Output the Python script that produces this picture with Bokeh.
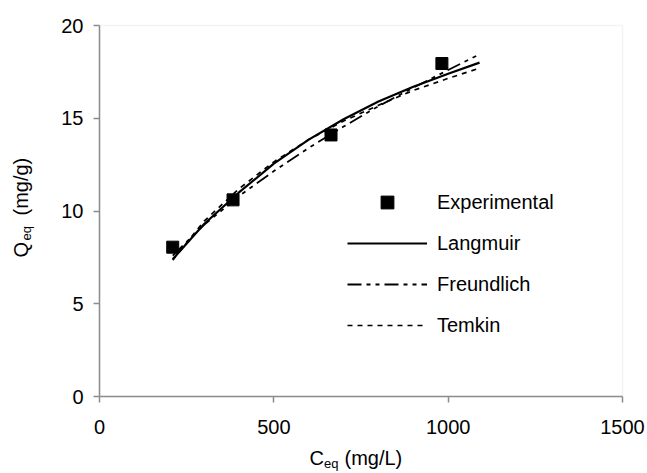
import math
from bokeh.plotting import figure
from bokeh.models import Range1d, FixedTicker, Legend, LegendItem, Label, BoxAnnotation
from bokeh.embed import file_html
from bokeh.resources import INLINE

# ---- data ----
exp_c = [210, 383, 664, 982]
exp_q = [8.05, 10.6, 14.1, 17.95]

fit_c = [210, 300, 400, 500, 600, 700, 800, 900, 1000, 1090]
langmuir = [7.4, 9.3, 11.0, 12.55, 13.85, 14.95, 15.9, 16.7, 17.4, 18.0]
freundlich = [7.6, 9.25, 10.8, 12.15, 13.4, 14.55, 15.65, 16.65, 17.6, 18.45]
temkin = [7.35, 9.45, 11.2, 12.65, 13.85, 14.85, 15.7, 16.5, 17.15, 17.7]

x_ticks = [0, 500, 1000, 1500]
y_ticks = [0, 5, 10, 15, 20]
x_lim = (0, 1500)
y_lim = (0, 20)

FONT = "Liberation Sans"

# ---- layout (pixels) ----
W, H = 647, 473
F_LEFT, F_RIGHT, F_TOP, F_BOTTOM = 99, 622, 25, 396
xs = (x_lim[1] - x_lim[0]) / (F_RIGHT - F_LEFT)
ys = (y_lim[1] - y_lim[0]) / (F_BOTTOM - F_TOP)
x_range = Range1d(x_lim[0] - F_LEFT * xs, x_lim[1] + (W - F_RIGHT) * xs)
y_range = Range1d(y_lim[0] - (H - F_BOTTOM) * ys, y_lim[1] + F_TOP * ys)

p = figure(width=W, height=H, output_backend="svg", toolbar_location=None,
           x_range=x_range, y_range=y_range,
           min_border_left=0, min_border_right=0, min_border_top=0,
           min_border_bottom=0)
p.background_fill_color = "white"
p.border_fill_color = "white"
p.outline_line_color = None
p.xgrid.visible = False
p.ygrid.visible = False

# light grey plot-area border (top / right visible; axes cover left / bottom)
p.add_layout(BoxAnnotation(left=x_lim[0], right=x_lim[1], bottom=y_lim[0], top=y_lim[1],
                           fill_alpha=0, line_color="#d6d6d6", line_width=1.5,
                           level="underlay"))

for ax, ticks, lim in ((p.xaxis, x_ticks, x_lim), (p.yaxis, y_ticks, y_lim)):
    ax.ticker = FixedTicker(ticks=ticks)
    ax.bounds = lim
    ax.axis_line_color = "#8c8c8c"
    ax.axis_line_width = 1.5
    ax.major_tick_line_color = "#8c8c8c"
    ax.major_tick_line_width = 1.5
    ax.major_tick_in = 0
    ax.major_tick_out = 6
    ax.minor_tick_line_color = None
    ax.major_label_text_font = FONT
    ax.major_label_text_font_size = "20px"
    ax.major_label_text_color = "black"
p.xaxis.fixed_location = y_lim[0]
p.yaxis.fixed_location = x_lim[0]
p.xaxis.major_label_standoff = 17
p.yaxis.major_label_standoff = 10

r_exp = p.scatter(exp_c, exp_q, marker="square", size=12, color="black")
r_lang = p.line(fit_c, langmuir, line_color="black", line_width=2.2)
r_freu = p.line(fit_c, freundlich, line_color="black", line_width=1.8,
                line_dash="14 5 4 5 4 5")
r_temk = p.line(fit_c, temkin, line_color="black", line_width=1.7,
                line_dash="5 5")

legend = Legend(items=[
    LegendItem(label="Experimental", renderers=[r_exp]),
    LegendItem(label="Langmuir", renderers=[r_lang]),
    LegendItem(label="Freundlich", renderers=[r_freu]),
    LegendItem(label="Temkin", renderers=[r_temk]),
], location=(F_LEFT + 248, (H - F_BOTTOM) + 55))
legend.glyph_width = 80
legend.glyph_height = 32
legend.label_height = 32
legend.spacing = 9
legend.label_standoff = 10
legend.padding = 0
legend.margin = 0
legend.border_line_color = None
legend.background_fill_alpha = 0
legend.label_text_font = FONT
legend.label_text_font_size = "20px"
legend.label_text_color = "black"
p.add_layout(legend)

def lab(text, x, y, size, angle=0.0):
    # x, y in screen pixels from the canvas' top-left corner (y = text middle)
    p.add_layout(Label(text=text, x=x, y=H - y, x_units="screen", y_units="screen",
                       text_font=FONT, text_font_size=size, text_color="black",
                       text_align="left", text_baseline="middle",
                       angle=angle))

# x axis title: C_eq (mg/L)
lab("C", 309, 457.5, "20px")
lab("eq", 323.5, 462.5, "13px")
lab("(mg/L)", 344, 457.5, "20px")
# y axis title: Q_eq (mg/g)
lab("Q", 20, 257, "20px", math.pi / 2)
lab("eq", 26, 240, "13px", math.pi / 2)
lab("(mg/g)", 20, 215, "20px", math.pi / 2)

open("out.html", "w").write(file_html(p, INLINE))
